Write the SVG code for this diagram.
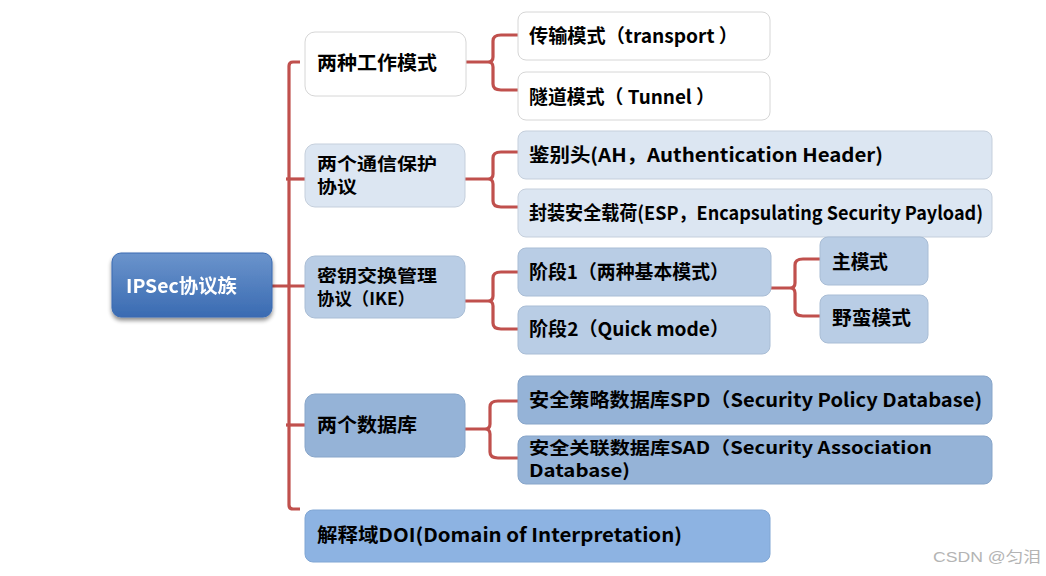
<svg xmlns="http://www.w3.org/2000/svg" width="1046" height="576" viewBox="0 0 1046 576">
  <defs>
    <linearGradient id="rootGrad" x1="0" y1="0" x2="0" y2="1">
      <stop offset="0" stop-color="#6b94cc"/>
      <stop offset="1" stop-color="#3a6bb2"/>
    </linearGradient>
    <filter id="shadow" x="-10%" y="-10%" width="120%" height="130%">
      <feGaussianBlur in="SourceAlpha" stdDeviation="2"/>
      <feOffset dx="0" dy="3" result="b"/>
      <feComponentTransfer><feFuncA type="linear" slope="0.45"/></feComponentTransfer>
      <feMerge><feMergeNode/><feMergeNode in="SourceGraphic"/></feMerge>
    </filter>
  </defs>
  <style>
    text { font-family: "Noto Sans CJK SC", "Noto Sans", "Liberation Sans", sans-serif; font-weight: bold; font-size: 19px; fill: #000; }
    .two { font-size: 17.5px; }
    .white rect { fill: #ffffff; stroke: #d6d6d6; stroke-width: 1; }
    .c1 rect { fill: #dce6f2; stroke: #c5cfdc; stroke-width: 1; }
    .c2 rect { fill: #b9cde5; stroke: #a9bdd5; stroke-width: 1; }
    .c3 rect { fill: #95b3d7; stroke: #87a5c9; stroke-width: 1; }
    .c4 rect { fill: #8db3e2; stroke: #80a6d4; stroke-width: 1; }
    .conn path { fill: none; stroke: #c0504d; stroke-width: 3.2; stroke-linecap: butt; stroke-linejoin: round; }
    .rootText { fill: #ffffff; }
    .wm { font-family: "Liberation Sans", "Noto Sans CJK SC", sans-serif; font-weight: normal; font-size: 15px; fill: #b4b4b4; }
  </style>
  <rect x="0" y="0" width="1046" height="576" fill="#ffffff"/>

  <g id="connectors" class="conn">
    <path d="M300,62 H293 Q289,62 289,66 V505 Q289,509 293,509 H300"/>
    <path d="M286,179 H305"/>
    <path d="M264,286 H305"/>
    <path d="M286,425 H305"/>
    <path d="M455,62 H488 Q493,62 493,57 V41 Q493,35 501,35 H518 M488,62 Q493,62 493,67 V84 Q493,90 501,90 H518"/>
    <path d="M453,179 H488 Q493,179 493,174 V158 Q493,152 501,152 H518 M488,179 Q493,179 493,184 V201 Q493,207 501,207 H518"/>
    <path d="M454,301 H488 Q493,301 493,296 V278 Q493,272 501,272 H518 M488,301 Q493,301 493,306 V323 Q493,329 501,329 H518"/>
    <path d="M757,288 H790 Q795,288 795,283 V265 Q795,259 803,259 H820 M790,288 Q795,288 795,293 V310 Q795,316 803,316 H820"/>
    <path d="M451,429 H485 Q490,429 490,424 V407 Q490,401 498,401 H518 M485,429 Q490,429 490,434 V452 Q490,458 498,458 H518"/>
  </g>

  <g id="root" filter="url(#shadow)">
    <rect x="112" y="253" width="160" height="64" rx="9" fill="url(#rootGrad)" stroke="#3a6bb2" stroke-width="1"/>
    <text class="rootText" x="126" y="293" textLength="111" lengthAdjust="spacingAndGlyphs">IPSec协议族</text>
  </g>

  <g id="modes" class="white">
    <rect x="305" y="32" width="161" height="64" rx="10"/>
    <text x="317" y="70" textLength="120" lengthAdjust="spacingAndGlyphs">两种工作模式</text>
  </g>
  <g id="protocols" class="c1">
    <rect x="305" y="144" width="160" height="63" rx="10"/>
    <text class="two" x="317" y="170" textLength="120" lengthAdjust="spacingAndGlyphs">两个通信保护</text>
    <text class="two" x="317" y="193" textLength="40" lengthAdjust="spacingAndGlyphs">协议</text>
  </g>
  <g id="ike" class="c2">
    <rect x="305" y="256" width="160" height="62" rx="10"/>
    <text class="two" x="317" y="282" textLength="120" lengthAdjust="spacingAndGlyphs">密钥交换管理</text>
    <text class="two" x="317" y="305" textLength="98" lengthAdjust="spacingAndGlyphs">协议（IKE）</text>
  </g>
  <g id="databases" class="c3">
    <rect x="305" y="394" width="160" height="63" rx="10"/>
    <text x="317" y="432" textLength="100" lengthAdjust="spacingAndGlyphs">两个数据库</text>
  </g>
  <g id="doi" class="c4">
    <rect x="305" y="510" width="465" height="52" rx="8"/>
    <text x="317" y="542" textLength="365" lengthAdjust="spacingAndGlyphs">解释域DOI(Domain of Interpretation)</text>
  </g>

  <g id="transport" class="white">
    <rect x="518" y="12" width="252" height="48" rx="8"/>
    <text x="529" y="43" textLength="209" lengthAdjust="spacingAndGlyphs">传输模式（transport ）</text>
  </g>
  <g id="tunnel" class="white">
    <rect x="518" y="72" width="252" height="48" rx="8"/>
    <text x="529" y="104" textLength="186" lengthAdjust="spacingAndGlyphs">隧道模式（ Tunnel ）</text>
  </g>
  <g id="ah" class="c1">
    <rect x="518" y="131" width="474" height="48" rx="8"/>
    <text x="529" y="162" textLength="354" lengthAdjust="spacingAndGlyphs">鉴别头(AH，Authentication Header)</text>
  </g>
  <g id="esp" class="c1">
    <rect x="518" y="189" width="474" height="48" rx="8"/>
    <text x="529" y="220" textLength="454" lengthAdjust="spacingAndGlyphs">封装安全载荷(ESP，Encapsulating Security Payload)</text>
  </g>
  <g id="phase1" class="c2">
    <rect x="518" y="248" width="253" height="48" rx="8"/>
    <text x="529" y="279" textLength="200" lengthAdjust="spacingAndGlyphs">阶段1（两种基本模式）</text>
  </g>
  <g id="phase2" class="c2">
    <rect x="518" y="306" width="252" height="48" rx="8"/>
    <text x="529" y="336" textLength="200" lengthAdjust="spacingAndGlyphs">阶段2（Quick mode）</text>
  </g>
  <g id="mainmode" class="c2">
    <rect x="820" y="237" width="108" height="48" rx="8"/>
    <text x="832" y="269" textLength="56" lengthAdjust="spacingAndGlyphs">主模式</text>
  </g>
  <g id="aggressive" class="c2">
    <rect x="820" y="295" width="108" height="48" rx="8"/>
    <text x="832" y="325" textLength="79" lengthAdjust="spacingAndGlyphs">野蛮模式</text>
  </g>
  <g id="spd" class="c3">
    <rect x="518" y="376" width="474" height="48" rx="8"/>
    <text x="529" y="407" textLength="453" lengthAdjust="spacingAndGlyphs">安全策略数据库SPD（Security Policy Database)</text>
  </g>
  <g id="sad" class="c3">
    <rect x="518" y="436" width="474" height="48" rx="8"/>
    <text class="two" x="529" y="454" textLength="403" lengthAdjust="spacingAndGlyphs">安全关联数据库SAD（Security Association</text>
    <text class="two" x="529" y="477" textLength="101" lengthAdjust="spacingAndGlyphs">Database)</text>
  </g>

  <text class="wm" x="933" y="562" textLength="108" lengthAdjust="spacingAndGlyphs">CSDN @匀泪</text>
</svg>
